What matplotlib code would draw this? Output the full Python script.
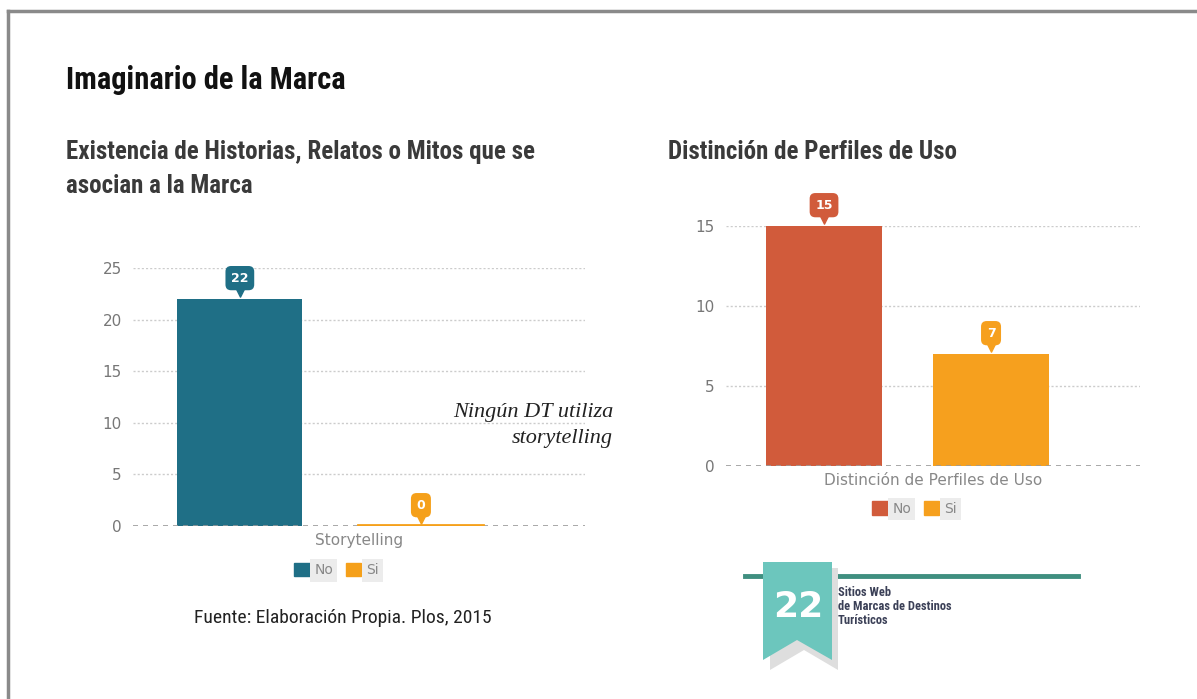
import matplotlib
matplotlib.use("Agg")
import matplotlib.pyplot as plt
import matplotlib.transforms as mtransforms
from matplotlib import font_manager
from matplotlib.patches import Polygon, Patch

# datos
categorias = ["No", "Si"]
storytelling = [22, 0]
perfiles_uso = [15, 7]
colores_izq = ["#1f6f86", "#f5a01a"]
colores_der = ["#d15b3b", "#f6a01e"]
ticks_izq = [0, 5, 10, 15, 20, 25]
ticks_der = [0, 5, 10, 15]

W, H = 1197, 699

disponibles = {f.name for f in font_manager.fontManager.ttflist}
def elegir(cands):
    for c in cands:
        if c in disponibles:
            return c
    return "DejaVu Sans"

estrecha = elegir(["Roboto Condensed", "Liberation Sans Narrow", "DejaVu Sans Condensed", "Liberation Sans"])
serif = elegir(["Liberation Serif", "DejaVu Serif"])

fig = plt.figure(figsize=(W / 100, H / 100), dpi=100)
fig.patch.set_facecolor("white")

def caja(x0, y0, x1, y1):
    return [x0 / W, 1 - y1 / H, (x1 - x0) / W, (y1 - y0) / H]

def burbuja(ax, x, v, color):
    off = mtransforms.offset_copy(ax.transData, fig=fig, y=5, units="points")
    ax.scatter([x], [v], marker="v", s=45, color=color, transform=off, clip_on=False, zorder=5)
    ax.annotate(str(v), xy=(x, v), xytext=(0, 15), textcoords="offset points",
                ha="center", va="center", color="white", fontsize=9, fontweight="bold",
                bbox=dict(boxstyle="round,pad=0.45", fc=color, ec="none"),
                annotation_clip=False, zorder=6)

def grafico(ax, valores, colores, ticks, xlim, etiqueta, ley_x):
    x = list(range(len(valores)))
    ax.bar(x, valores, width=0.69, color=colores, zorder=3)
    ax.set_xlim(*xlim)
    ax.set_ylim(0, ticks[-1])
    ax.set_yticks(ticks)
    for t in ticks[1:]:
        ax.axhline(t, color="#cccccc", lw=1, ls=(0, (1.5, 1.5)), zorder=1)
    ax.axhline(0, color="#9a9a9a", lw=1.2, ls=(0, (3, 3)), zorder=4)
    for s in ax.spines.values():
        s.set_visible(False)
    ax.tick_params(axis="y", length=0, pad=8, labelsize=11, labelcolor="#777777")
    ax.set_xticks([])
    ax.set_xlabel(etiqueta, fontsize=11, color="#888888", labelpad=5)
    for xi, v, c in zip(x, valores, colores):
        burbuja(ax, xi, v, c)
    handles = [Patch(color=c, label=l) for c, l in zip(colores, categorias)]
    leg = ax.legend(handles=handles, loc="upper center", bbox_to_anchor=(ley_x, -0.095),
                    ncol=2, frameon=False, handlelength=1.1, handleheight=1.1,
                    handletextpad=0.35, columnspacing=0.9, fontsize=10)
    for t in leg.get_texts():
        t.set_color("#888888")
        t.set_bbox(dict(fc="#ececec", ec="none", pad=3))

ax1 = fig.add_axes(caja(133, 268, 585, 526))
grafico(ax1, storytelling, colores_izq, ticks_izq, (-0.59, 1.906), "Storytelling", 0.45)
# barra de valor cero visible como linea
ax1.plot([1 - 0.345, 1 + 0.345], [0.05, 0.05], color=colores_izq[1], lw=2, zorder=5)

ax2 = fig.add_axes(caja(726, 226, 1140, 466))
grafico(ax2, perfiles_uso, colores_der, ticks_der, (-0.587, 1.892), "Distinción de Perfiles de Uso", 0.455)

# capa de decoracion en pixeles
deco = fig.add_axes([0, 0, 1, 1], zorder=-1)
deco.set_xlim(0, W)
deco.set_ylim(H, 0)
deco.axis("off")
deco.plot([8, W], [11, 11], color="#8a8a8a", lw=2.5)
deco.plot([8, 8], [11, H], color="#8a8a8a", lw=2.5)

deco2 = fig.add_axes([0, 0, 1, 1], zorder=10)
deco2.set_xlim(0, W)
deco2.set_ylim(H, 0)
deco2.axis("off")
deco2.patch.set_alpha(0)

deco2.text(66, 80, "Imaginario de la Marca", fontsize=22, fontweight="bold",
           family=estrecha, color="#111111", va="center", ha="left")
deco2.text(66, 152, "Existencia de Historias, Relatos o Mitos que se", fontsize=18,
           fontweight="bold", family=estrecha, color="#3a3a3a", va="center")
deco2.text(66, 186, "asocian a la Marca", fontsize=18, fontweight="bold",
           family=estrecha, color="#3a3a3a", va="center")
deco2.text(668, 152, "Distinción de Perfiles de Uso", fontsize=18, fontweight="bold",
           family=estrecha, color="#3a3a3a", va="center")

deco2.text(613, 412, "Ningún DT utiliza", fontsize=16, fontstyle="italic",
           family=serif, color="#222222", ha="right", va="center")
deco2.text(613, 438, "storytelling", fontsize=16, fontstyle="italic",
           family=serif, color="#222222", ha="right", va="center")

deco2.text(343, 618, "Fuente: Elaboración Propia. Plos, 2015", fontsize=14,
           family=estrecha, color="#222222", ha="center", va="center")

# cinta con el logo
deco2.plot([745, 1078], [576, 576], color="#3f8f80", lw=3.5, zorder=1)
deco2.add_patch(Polygon([(770, 568), (838, 568), (838, 670), (804, 650), (770, 670)],
                        closed=True, fc="#dedede", ec="none", zorder=2))
deco2.add_patch(Polygon([(763, 562), (832, 562), (832, 660), (797, 640), (763, 660)],
                        closed=True, fc="#6cc6bd", ec="none", zorder=3))
deco2.text(798, 607, "22", fontsize=26, fontweight="bold", color="white",
           ha="center", va="center", zorder=4)
for i, linea in enumerate(["Sitios Web", "de Marcas de Destinos", "Turísticos"]):
    deco2.text(838, 592 + i * 14, linea, fontsize=9, fontweight="bold",
               family=estrecha, color="#3b4057", ha="left", va="center", zorder=4)

fig.savefig("out.png", dpi=100)
